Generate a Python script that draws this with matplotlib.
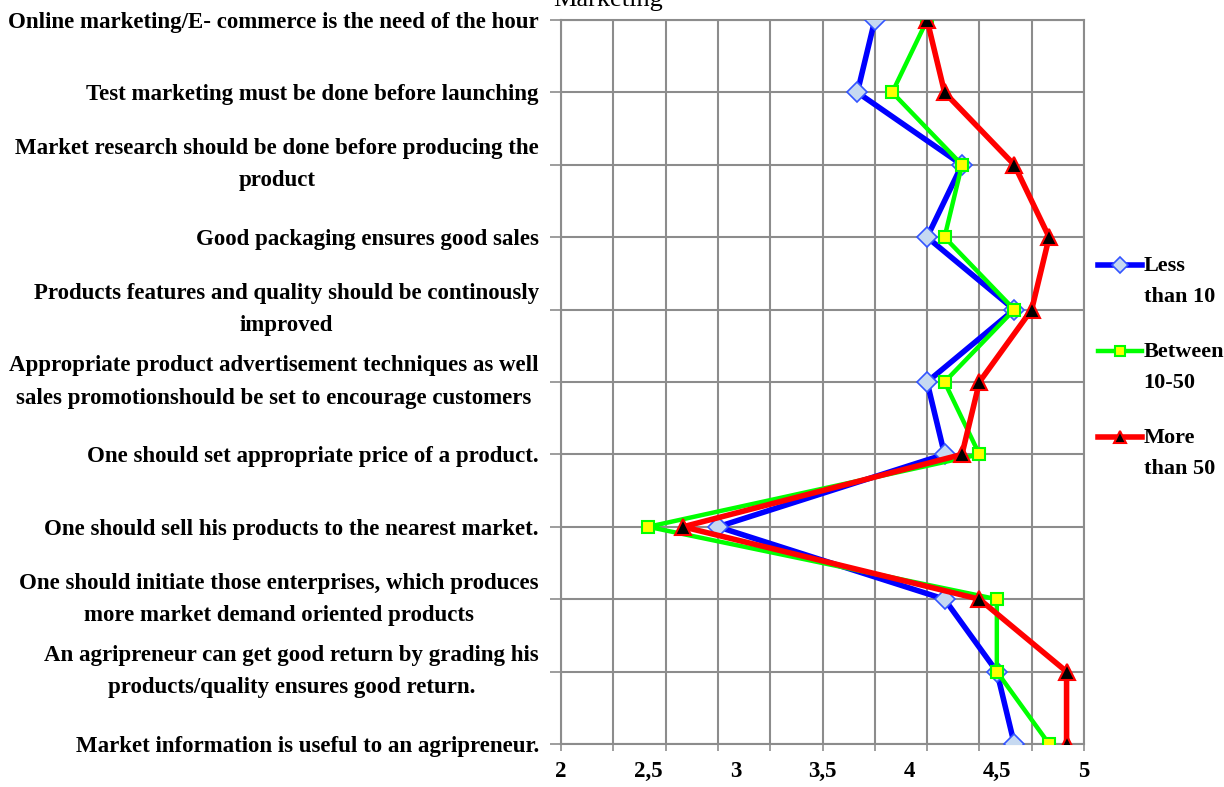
import matplotlib
matplotlib.use("Agg")
import numpy as np
import matplotlib.pyplot as plt
from matplotlib.ticker import FixedLocator, FixedFormatter
from matplotlib.legend_handler import HandlerLine2D

categories = [
    "Online marketing/E- commerce is the need of the hour",
    "Test marketing must be done before launching",
    "Market research should be done before producing the\nproduct",
    "Good packaging ensures good sales",
    "Products features and quality should be continously\nimproved",
    "Appropriate product advertisement techniques as well\nsales promotionshould be set to encourage customers",
    "One should set appropriate price of a product.",
    "One should sell his products to the nearest market.",
    "One should initiate those enterprises, which produces\nmore market demand oriented products",
    "An agripreneur can get good return by grading his\nproducts/quality ensures good return.",
    "Market information is useful to an agripreneur.",
]
less_than_10 = [3.8, 3.7, 4.3, 4.1, 4.6, 4.1, 4.2, 2.9, 4.2, 4.5, 4.6]
between_10_50 = [4.1, 3.9, 4.3, 4.2, 4.6, 4.2, 4.4, 2.5, 4.5, 4.5, 4.8]
more_than_50 = [4.1, 4.2, 4.6, 4.8, 4.7, 4.4, 4.3, 2.7, 4.4, 4.9, 4.9]
series_labels = ["Less\nthan 10", "Between\n10-50", "More\nthan 50"]
x_label_ticks = [2, 2.5, 3, 3.5, 4, 4.5, 5]
x_label_texts = ["2", "2,5", "3", "3,5", "4", "4,5", "5"]
x_grid_ticks = [2.0, 2.3, 2.6, 2.9, 3.2, 3.5, 3.8, 4.1, 4.4, 4.7, 5.0]
title = "Marketing"

serif = ["Liberation Serif", "DejaVu Serif"]
FS = 16.5

fig = plt.figure(figsize=(12.24, 7.87), dpi=100)
ax = fig.add_axes([561 / 1224, 1 - 744 / 787, (1084 - 561) / 1224, (744 - 20) / 787])

ypos = list(range(len(categories)))
grid_c = "#8c8c8c"

ax.plot(less_than_10, ypos, color="#0000ff", lw=4, marker="D", ms=10,
        mfc="#c6d9f1", mec="#3355ff", mew=1.2, label=series_labels[0], zorder=3)
ax.plot(between_10_50, ypos, color="#00ff00", lw=3.2, marker="s", ms=8,
        mfc="#ffff00", mec="#00ff00", mew=1.5, label=series_labels[1], zorder=4)
ax.plot(more_than_50, ypos, color="#ff0000", lw=4, marker="^", ms=11,
        mfc="#000000", mec="#ff0000", mew=1.5, label=series_labels[2], zorder=5)

ax.set_xlim(2, 5)
ax.set_ylim(len(categories) - 1, 0)

ax.xaxis.remove_overlapping_locs = False
ax.xaxis.set_major_locator(FixedLocator(x_grid_ticks))
ax.xaxis.set_major_formatter(FixedFormatter([""] * len(x_grid_ticks)))
ax.xaxis.set_minor_locator(FixedLocator(x_label_ticks))
ax.xaxis.set_minor_formatter(FixedFormatter(x_label_texts))
ax.tick_params(axis="x", which="major", length=5, color=grid_c, width=1.2)
ax.tick_params(axis="x", which="minor", length=0, pad=12)

ax.set_yticks(ypos)
ax.set_yticklabels(categories, multialignment="center")
ax.tick_params(axis="y", length=8, color=grid_c, width=1.2, pad=8)

for lab in ax.get_yticklabels():
    lab.set_fontfamily(serif)
    lab.set_fontweight("bold")
    lab.set_fontsize(FS)
    lab.set_linespacing(1.7)
    if "\n" in lab.get_text():
        lab.set_verticalalignment("center")
for lab in ax.xaxis.get_minorticklabels():
    lab.set_fontfamily(serif)
    lab.set_fontweight("bold")
    lab.set_fontsize(FS)

ax.grid(True, which="major", color=grid_c, lw=1.5)
for s in ax.spines.values():
    s.set_color(grid_c)
    s.set_linewidth(1.5)


class FirstLineHandler(HandlerLine2D):
    shift = 11.5

    def create_artists(self, legend, orig_handle, xdescent, ydescent, width,
                       height, fontsize, trans):
        arts = super().create_artists(legend, orig_handle, xdescent, ydescent,
                                      width, height, fontsize, trans)
        for a in arts:
            a.set_ydata(np.asarray(a.get_ydata(), dtype=float) + self.shift)
            if a.get_marker() not in (None, "None", ""):
                a.set_markersize(a.get_markersize() * 0.85)
        return arts


leg = fig.legend(loc="upper left", bbox_to_anchor=(1098 / 1224, 1 - 256 / 787),
                 frameon=False, handlelength=2.0, handletextpad=0.05,
                 labelspacing=1.6, borderaxespad=0, borderpad=0,
                 handler_map={matplotlib.lines.Line2D: FirstLineHandler()},
                 prop={"family": serif, "weight": "bold", "size": 16})
for t in leg.get_texts():
    t.set_linespacing(1.7)

fig.text(553 / 1224, 1 - 6 / 787, title, fontfamily=serif, fontsize=19,
         ha="left", va="baseline")

fig.savefig("out.png", dpi=100)
